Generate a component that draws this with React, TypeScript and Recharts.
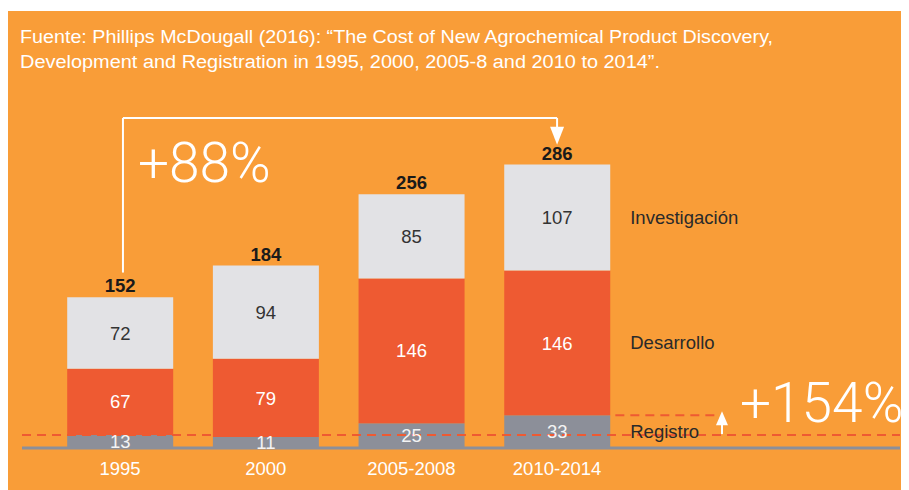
import React from 'react';
import { BarChart, Bar, XAxis, YAxis, LabelList, ReferenceLine, ReferenceDot } from 'recharts';

const categories = ['1995', '2000', '2005-2008', '2010-2014'];
const positions = [1, 2, 3, 4];
const registro = [13, 11, 25, 33];
const desarrollo = [67, 79, 146, 146];
const investigacion = [72, 94, 85, 107];
const totals = [152, 184, 256, 286];
const seriesNames = { investigacion: 'Investigación', desarrollo: 'Desarrollo', registro: 'Registro' };

const data = categories.map((c, i) => ({
  x: positions[i],
  name: c,
  registro: registro[i],
  desarrollo: desarrollo[i],
  investigacion: investigacion[i],
  total: totals[i],
}));

const ORANGE = '#F99D38';
const RED = '#EE5A32';
const GREY = '#8C8F99';
const LIGHT = '#E2E2E5';
const FONT = '"Liberation Sans", Arial, sans-serif';
const LIGHTFONT = 'Roboto, "Liberation Sans", sans-serif';
const FS = 18.5;

const sideLabel = (name: string) => (props: any) => {
  if (props.index !== 3) return null;
  const vb = props.viewBox || props;
  const x = vb.x ?? props.x;
  const y = vb.y ?? props.y;
  const w = vb.width ?? props.width;
  const h = vb.height ?? props.height;
  return (
    <text x={x + w + 20} y={y + h / 2} dominantBaseline="central" fill="#2a2a2a" fontSize={FS} fontFamily={FONT}>
      {name}
    </text>
  );
};

const downArrow = (props: any) => {
  const { cx, cy } = props;
  return <path d={`M${cx},${cy} L${cx - 7},${cy - 18} L${cx + 7},${cy - 18} Z`} fill="#fff" />;
};
const upArrow = (props: any) => {
  const { cx, cy } = props;
  return <path d={`M${cx},${cy} L${cx - 6},${cy + 14} L${cx + 6},${cy + 14} Z`} fill="#fff" />;
};
const bigText = (txt: string) => (props: any) => {
  const { cx, cy } = props;
  return (
    <text x={cx} y={cy} fill="#fff" fontSize={55} fontWeight={300} fontFamily={LIGHTFONT}>
      {txt}
    </text>
  );
};

export default function App() {
  return (
    <div style={{ marginTop: 3, width: 901, height: 479, background: ORANGE, position: 'relative', overflow: 'hidden' }}>
      <svg width={901} height={80} style={{ position: 'absolute', left: 0, top: 0 }}>
        <text x={12} y={32} fill="#fff" fontSize={18} fontFamily={FONT} textLength={753} lengthAdjust="spacingAndGlyphs">
          Fuente: Phillips McDougall (2016): “The Cost of New Agrochemical Product Discovery,
        </text>
        <text x={12} y={57} fill="#fff" fontSize={18} fontFamily={FONT} textLength={640} lengthAdjust="spacingAndGlyphs">
          Development and Registration in 1995, 2000, 2005-8 and 2010 to 2014”.
        </text>
      </svg>
      <BarChart width={901} height={479} data={data} margin={{ top: 100, right: 9, bottom: 12, left: 14 }}>
        <XAxis
          dataKey="x"
          type="number"
          domain={[0.327, 6.354]}
          allowDataOverflow
          ticks={positions}
          tickFormatter={(v: number) => categories[v - 1]}
          tick={{ fill: '#fff', fontSize: FS, fontFamily: FONT }}
          tickLine={false}
          axisLine={false}
          tickMargin={8}
          height={30}
        />
        <YAxis hide domain={[0, 340]} />
        <Bar dataKey="registro" stackId="a" fill={GREY} barSize={106} isAnimationActive={false}>
          <LabelList dataKey="registro" position="center" fill="#f4f4f4" fontSize={FS} fontFamily={FONT} />
          <LabelList dataKey="registro" content={sideLabel(seriesNames.registro)} />
        </Bar>
        <Bar dataKey="desarrollo" stackId="a" fill={RED} barSize={106} isAnimationActive={false}>
          <LabelList dataKey="desarrollo" position="center" fill="#fff" fontSize={FS} fontFamily={FONT} />
          <LabelList dataKey="desarrollo" content={sideLabel(seriesNames.desarrollo)} />
        </Bar>
        <Bar dataKey="investigacion" stackId="a" fill={LIGHT} barSize={106} isAnimationActive={false}>
          <LabelList dataKey="investigacion" position="center" fill="#333" fontSize={FS} fontFamily={FONT} />
          <LabelList dataKey="investigacion" content={sideLabel(seriesNames.investigacion)} />
          <LabelList dataKey="total" position="top" offset={5} fill="#1a1a1a" fontSize={FS} fontWeight="bold" fontFamily={FONT} />
        </Bar>
        <ReferenceLine y={0} stroke={GREY} strokeWidth={3} />
        <ReferenceLine y={13} stroke={RED} strokeWidth={2} strokeDasharray="9 6" />
        <ReferenceLine segment={[{ x: 4.4, y: 33 }, { x: 5.12, y: 33 }]} stroke={RED} strokeWidth={2} strokeDasharray="9 6" />
        <ReferenceLine segment={[{ x: 1.02, y: 177 }, { x: 1.02, y: 333 }]} stroke="#fff" strokeWidth={2} />
        <ReferenceLine segment={[{ x: 1.02, y: 333 }, { x: 4, y: 333 }]} stroke="#fff" strokeWidth={2} />
        <ReferenceLine segment={[{ x: 4, y: 333 }, { x: 4, y: 322 }]} stroke="#fff" strokeWidth={2} />
        <ReferenceDot x={4} y={306} r={0} shape={downArrow} />
        <ReferenceLine segment={[{ x: 5.132, y: 14 }, { x: 5.132, y: 26 }]} stroke="#fff" strokeWidth={2} />
        <ReferenceDot x={5.132} y={37} r={0} shape={upArrow} />
        <ReferenceDot x={1.123} y={268} r={0} shape={bigText('+88%')} />
        <ReferenceDot x={5.256} y={26} r={0} shape={bigText('+154%')} />
      </BarChart>
    </div>
  );
}
